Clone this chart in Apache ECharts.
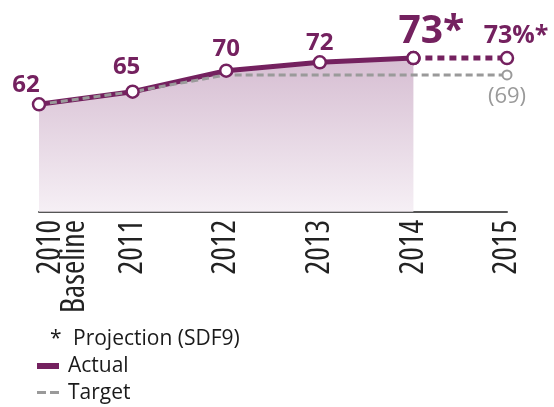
<!DOCTYPE html>
<html>
<head>
<meta charset="utf-8">
<script src="https://cdn.jsdelivr.net/npm/echarts@6/dist/echarts.min.js"></script>
<style>
  html, body { margin: 0; padding: 0; background: #fff; }
  #chart { width: 554px; height: 407px; }
</style>
</head>
<body>
<div id="chart"></div>
<script>
// Chart data
var years = ['2010\nBaseline', '2011', '2012', '2013', '2014', '2015'];
var actual = [62, 65, 70, 72, 73, null];
var projection = [null, null, null, null, 73, 73];
var target = [62, 65, 69, 69, 69, 69];
var actualLabels = ['62', '65', '70', '72', '73*', ''];
var projectionLabel = '73%*';
var targetLabel = '(69)';

var PURPLE = '#74215f';
var GREY = '#9a9a9a';

var chart = echarts.init(document.getElementById('chart'));

// per-point label tweaks for the actual markers
var labelOffsets = [[-13, 2], [-6, -3], [0, 0], [0, 2], [18, 3], [0, 0]];

var markerData = actual.map(function(v, i) {
    var item = { value: v, label: { offset: labelOffsets[i] } };
    if (i === 4) item.label.fontSize = 39;
    return item;
});

var projectionData = projection.map(function(v, i) {
    if (i === 5) {
        return { value: v, label: { show: true, formatter: projectionLabel, offset: [9, 6] } };
    }
    return { value: v, label: { show: false } };
});

var targetData = target.map(function(v, i) {
    if (i === 5) {
        return {
            value: v,
            symbol: 'circle',
            symbolSize: 9,
            label: { show: true, formatter: targetLabel, position: 'bottom', distance: 5 }
        };
    }
    return { value: v, symbol: 'none' };
});

var xData = years.map(function(y, i) {
    if (i === 0) {
        return { value: y, textStyle: { verticalAlign: 'top' } };
    }
    return y;
});

var option = {
    animation: false,
    grid: { left: 39, right: 47, top: 40, bottom: 195 },
    xAxis: {
        type: 'category',
        data: xData,
        boundaryGap: false,
        axisLine: { lineStyle: { color: '#555', width: 2 } },
        axisTick: { show: false },
        axisLabel: {
            rotate: 90,
            margin: 8,
            fontSize: 32,
            lineHeight: 24,
            color: '#222',
            fontStyle: 'condensed',
            fontFamily: '"Open Sans"',
            interval: 0
        },
        splitLine: { show: false }
    },
    yAxis: {
        type: 'value',
        min: 36.4,
        max: 77.3,
        show: false,
        splitLine: { show: false }
    },
    series: [
        {
            // actual line with shaded area
            type: 'line',
            data: actual,
            z: 2,
            symbol: 'none',
            lineStyle: { color: PURPLE, width: 5 },
            areaStyle: {
                color: new echarts.graphic.LinearGradient(0, 0, 0, 1, [
                    { offset: 0, color: '#c4a1be' },
                    { offset: 1, color: '#f1e8f0' }
                ])
            }
        },
        {
            // projection to 2015
            type: 'line',
            data: projectionData,
            z: 2,
            symbol: 'circle',
            symbolSize: 12,
            itemStyle: { color: '#fff', borderColor: PURPLE, borderWidth: 2.5 },
            lineStyle: { color: PURPLE, width: 5, type: [7, 5] },
            label: {
                position: 'top',
                distance: 8,
                color: PURPLE,
                fontSize: 25,
                fontWeight: 'bold',
                fontFamily: '"Open Sans", sans-serif'
            }
        },
        {
            // target dashed line
            type: 'line',
            data: targetData,
            z: 3,
            itemStyle: { color: '#fff', borderColor: GREY, borderWidth: 2 },
            lineStyle: { color: GREY, width: 3, type: [7, 4] },
            label: {
                color: GREY,
                fontSize: 22,
                fontFamily: '"Open Sans", sans-serif'
            }
        },
        {
            // markers + value labels for actual, drawn above the target dashes
            type: 'scatter',
            data: markerData,
            z: 4,
            symbol: 'circle',
            symbolSize: 12,
            itemStyle: { color: '#fff', borderColor: PURPLE, borderWidth: 2.5, opacity: 1 },
            label: {
                show: true,
                position: 'top',
                distance: 2,
                color: PURPLE,
                fontSize: 24,
                fontWeight: 'bold',
                fontFamily: '"Open Sans", sans-serif',
                formatter: function(p) { return actualLabels[p.dataIndex]; }
            }
        }
    ],
    graphic: [
        {
            type: 'text', left: 50, top: 329,
            style: { text: '*', fontSize: 21, fill: '#1a1a1a', fontFamily: '"Open Sans", sans-serif' }
        },
        {
            type: 'text', left: 73, top: 329,
            style: { text: 'Projection (SDF9)', fontSize: 21, fill: '#1a1a1a', fontFamily: '"Open Sans", sans-serif' }
        },
        {
            type: 'rect', left: 37, top: 363,
            shape: { width: 22, height: 6 },
            style: { fill: PURPLE }
        },
        {
            type: 'text', left: 68, top: 356,
            style: { text: 'Actual', fontSize: 21, fill: '#1a1a1a', fontFamily: '"Open Sans", sans-serif' }
        },
        {
            type: 'rect', left: 37, top: 391,
            shape: { width: 9, height: 3 },
            style: { fill: GREY }
        },
        {
            type: 'rect', left: 50, top: 391,
            shape: { width: 9, height: 3 },
            style: { fill: GREY }
        },
        {
            type: 'text', left: 68, top: 383,
            style: { text: 'Target', fontSize: 21, fill: '#1a1a1a', fontFamily: '"Open Sans", sans-serif' }
        }
    ]
};

chart.setOption(option);
</script>
</body>
</html>
